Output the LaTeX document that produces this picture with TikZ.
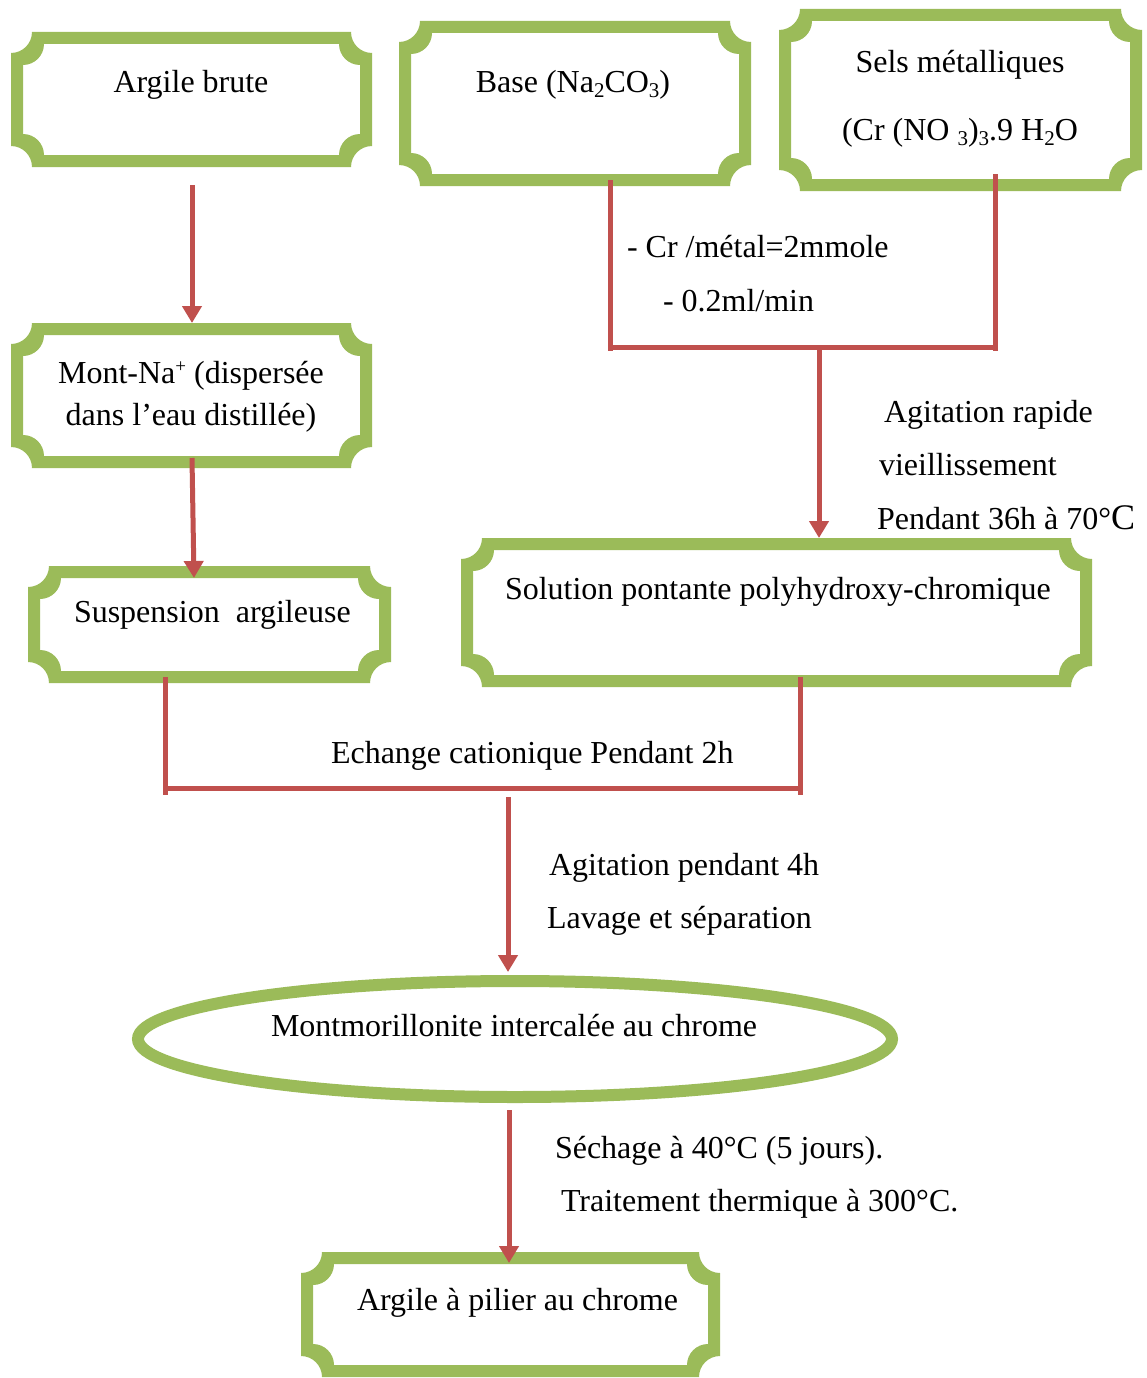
\documentclass[tikz,border=0pt]{standalone}
\usepackage{fontspec}
\setmainfont{Liberation Serif}
\usetikzlibrary{arrows.meta,calc,shapes.geometric}
\definecolor{framegreen}{HTML}{9BBB59}
\definecolor{linered}{HTML}{C0504D}
\newcommand\Rr{21}
\newcommand\sbs[1]{\raisebox{-5pt}{\fontsize{21}{21}\selectfont #1}}
\newcommand\sps[1]{\raisebox{11pt}{\fontsize{19}{19}\selectfont #1}}
% contour of a plaque shape around node #1, offset #2 outwards from the node border
\newcommand\plaquesub[2]{%
 ($(#1.north west)+({\Rr-(#2)},{-(#2)})$) -- ($(#1.north east)+({-\Rr+(#2)},{-(#2)})$)
 arc[start angle=180,end angle=90,radius=\Rr]
 -- ($(#1.south east)+({#2},{-\Rr+(#2)})$)
 arc[start angle=270,end angle=180,radius=\Rr]
 -- ($(#1.south west)+({\Rr-(#2)},{#2})$)
 arc[start angle=0,end angle=-90,radius=\Rr]
 -- ($(#1.north west)+({-(#2)},{\Rr-(#2)})$)
 arc[start angle=90,end angle=0,radius=\Rr] -- cycle}
\newcommand\plaqueframe[1]{\fill[framegreen, even odd rule] \plaquesub{#1}{6} \plaquesub{#1}{-6};}
\tikzset{
 boxshape/.style={rectangle, inner sep=0, outer sep=0, draw=none},
 conn/.style={draw=linered, line width=5pt},
 arr/.style={conn, -{Triangle[width=19pt,length=17pt]}},
 txt/.style={inner sep=0, outer sep=0, font=\fontsize{32}{38}\selectfont},
}
\begin{document}
\begin{tikzpicture}[x=1pt,y=-1pt]
\useasboundingbox[fill=white] (0,0) rectangle (1146,1378);
% frames
\node[boxshape, minimum width=349, minimum height=123] (argile) at (191.5,99.5) {};
\node[boxshape, minimum width=340, minimum height=153] (base) at (575,103.5) {};
\node[boxshape, minimum width=351, minimum height=170] (sels) at (960.5,100) {};
\node[boxshape, minimum width=349, minimum height=133] (mont) at (191.5,395.5) {};
\node[boxshape, minimum width=351, minimum height=105] (susp) at (209.5,624.5) {};
\node[boxshape, minimum width=619, minimum height=137] (sol) at (776.5,612.5) {};
\node[boxshape, minimum width=407, minimum height=113] (fin) at (510.5,1314.5) {};
\node[ellipse, draw=framegreen, line width=12pt, minimum width=754, minimum height=116, inner sep=0, outer sep=0] (ell) at (515,1039) {};
\plaqueframe{argile}
\plaqueframe{base}
\plaqueframe{sels}
\plaqueframe{mont}
\plaqueframe{susp}
\plaqueframe{sol}
\plaqueframe{fin}
% texts
\node[txt, anchor=base] (argileT) at (191,93) {Argile brute};
\node[txt, anchor=base] (baseT) at (573,93) {Base (Na\sbs{2}CO\sbs{3})};
\node[txt, anchor=base] (selsT1) at (960,73) {Sels métalliques};
\node[txt, anchor=base] (selsT2) at (960,141) {(Cr (NO \sbs{3})\sbs{3}.9 H\sbs{2}O};
\node[txt, anchor=base west] (crT) at (627,257) {- Cr /métal=2mmole};
\node[txt, anchor=base west] (debT) at (663,311) {- 0.2ml/min};
\node[txt, anchor=base west] (agT1) at (884,422) {Agitation rapide};
\node[txt, anchor=base west] (agT2) at (879,475) {vieillissement};
\node[txt, anchor=base west] (agT3) at (877,529) {Pendant 36h à 70°{\fontsize{36}{36}\selectfont C}};
\node[txt, anchor=base] (montT1) at (191,383) {Mont-Na\sps{+} (dispersée};
\node[txt, anchor=base] (montT2) at (191,425) {dans l’eau distillée)};
\node[txt, anchor=base west] (suspT) at (74,622) {Suspension\ \ argileuse};
\node[txt, anchor=base west] (solT) at (505,599) {Solution pontante polyhydroxy-chromique};
\node[txt, anchor=base west] (echT) at (331,763) {Echange cationique Pendant 2h};
\node[txt, anchor=base west] (agT4) at (549,875) {Agitation pendant 4h};
\node[txt, anchor=base west] (lavT) at (547,928) {Lavage et séparation};
\node[txt, anchor=base west] (ellT) at (271,1036) {Montmorillonite intercalée au chrome};
\node[txt, anchor=base west] (secT) at (555,1158) {Séchage à 40°C (5 jours).};
\node[txt, anchor=base west] (traT) at (561,1211) {Traitement thermique à 300°C.};
\node[txt, anchor=base west] (finT) at (357,1310) {Argile à pilier au chrome};
% connectors
\draw[arr] ($(argile.south)+(0.5,24)$) -- ($(mont.north)+(0.5,-6)$);
\draw[arr] ($(mont.south)+(0.5,-4)$) -- ($(susp.north west)+(160,6)$);
\coordinate (j1) at (610,347);
\coordinate (j2) at (995,347);
\coordinate (j3) at (819,347);
\draw[conn] ($(base.south)+(35,0)$) -- ($(j1)+(0,4)$);
\draw[conn] ($(sels.south)+(34.5,-11)$) -- ($(j2)+(0,4)$);
\draw[conn] (j1) -- (j2);
\draw[arr] (j3) -- ($(sol.north)+(42.5,-6)$);
\coordinate (k1) at (165,788);
\coordinate (k2) at (800,788);
\coordinate (k3) at (508,797);
\draw[conn] ($(susp.south west)+(131,0)$) -- ($(k1)+(0,7)$);
\draw[conn] ($(sol.south)+(23.5,-4)$) -- ($(k2)+(0,7)$);
\draw[conn] (k1) -- (k2);
\draw[arr] (k3) -- ($(ell.north)+(-7,-9)$);
\draw[arr] ($(ell.south)+(-6,13)$) -- ($(fin.north west)+(202,5)$);
\end{tikzpicture}
\end{document}
